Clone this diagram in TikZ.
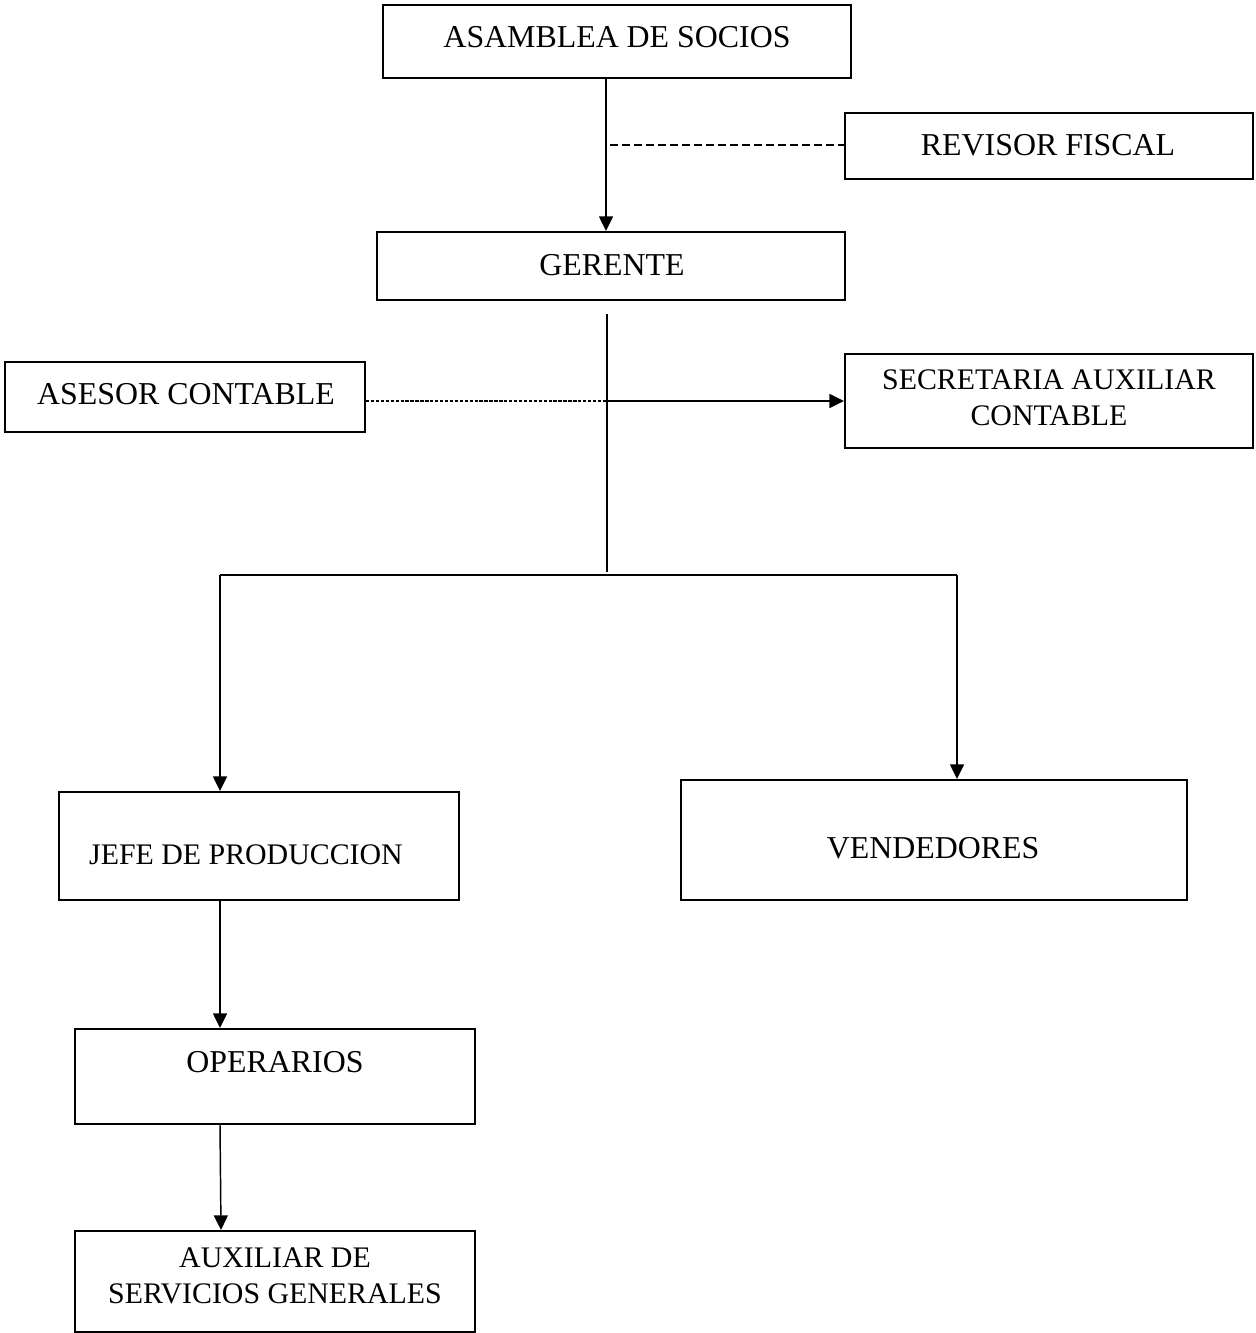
\documentclass[tikz,border=0pt]{standalone}
\usepackage{fontspec}
\setmainfont{Liberation Serif}
\usetikzlibrary{arrows.meta}
\begin{document}
\begin{tikzpicture}[x=0.75pt,y=-0.75pt,
  box/.style={draw, line width=1.5pt, rectangle, inner sep=0pt},
  lbl/.style={inner sep=0pt, align=center, font=\fontsize{23.9}{27}\selectfont},
  lbls/.style={inner sep=0pt, align=center, font=\fontsize{22.4}{27}\selectfont},
  conn/.style={line width=1.1pt},
  arr/.style={conn, -{Triangle[length=11pt,width=10.5pt]}},
  dsh/.style={line width=1.6pt, dash pattern=on 6pt off 3pt},
  dshfine/.style={line width=2pt, dash pattern=on 2.5pt off 1.2pt}]
\useasboundingbox (0,0) rectangle (1255,1333);
% boxes
\node[box, minimum width=351pt, minimum height=54.75pt] (A) at (617,41.5) {};
\node[box, minimum width=306pt, minimum height=49.5pt] (R) at (1049,146) {};
\node[box, minimum width=351pt, minimum height=51pt] (G) at (611,266) {};
\node[box, minimum width=270pt, minimum height=52.5pt] (AC) at (185,397) {};
\node[box, minimum width=306pt, minimum height=70.5pt] (S) at (1049,401) {};
\node[box, minimum width=300pt, minimum height=81pt] (J) at (259,846) {};
\node[box, minimum width=379.5pt, minimum height=90pt] (V) at (934,840) {};
\node[box, minimum width=300pt, minimum height=71.25pt] (O) at (275,1076.5) {};
\node[box, minimum width=300pt, minimum height=75.75pt] (AX) at (275,1281.5) {};
% labels
\node[lbl] (tA) at (617,37) {ASAMBLEA DE SOCIOS};
\node[lbl] (tR) at (1048,145) {REVISOR FISCAL};
\node[lbl] (tG) at (612,265) {GERENTE};
\node[lbl] (tAC) at (186,394) {ASESOR CONTABLE};
\node[lbls] (tS) at (1049,398) {SECRETARIA AUXILIAR\\CONTABLE};
\node[lbls] (tJ) at (246,855) {JEFE DE PRODUCCION};
\node[lbl] (tV) at (933,848) {VENDEDORES};
\node[lbl] (tO) at (275,1062) {OPERARIOS};
\node[lbls] (tAX) at (275,1276) {AUXILIAR DE\\SERVICIOS GENERALES};
% junction coordinates
\coordinate (t1) at (606,145);
\coordinate (g1) at (607,314);
\coordinate (j) at (607,401);
\coordinate (g2) at (607,572);
\coordinate (bl) at (220,575);
\coordinate (br) at (957,575);
\coordinate (ox) at (221,1200);
% connectors
\draw[arr] (A.south -| t1) -- (G.north -| t1);
\draw[dsh] ([xshift=3pt]t1) -- (t1 -| R.west);
\draw[conn] (g1) -- (g2);
\draw[dshfine] (AC.east |- j) -- (j);
\draw[arr] (j) -- (j -| S.west);
\draw[conn] (bl) -- (br);
\draw[arr] (bl) -- (J.north -| bl);
\draw[arr] (br) -- (V.north -| br);
\draw[arr] (J.south -| bl) -- (O.north -| bl);
\draw[arr] (O.south -| bl) -- (AX.north -| ox);
\end{tikzpicture}
\end{document}
